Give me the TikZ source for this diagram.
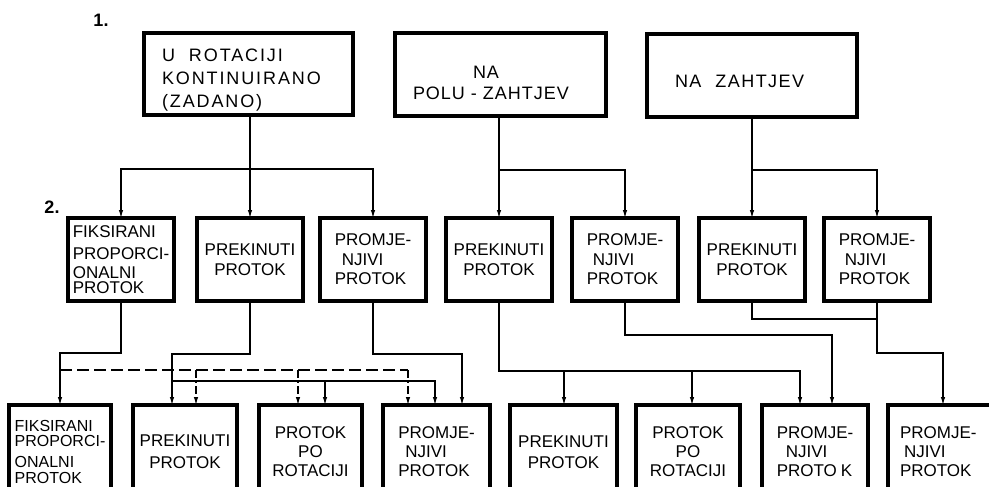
\documentclass[tikz,border=0pt]{standalone}
\usepackage{fontspec}
\setmainfont{Liberation Sans}
\newfontfamily\fA[LetterSpace=10.5]{Liberation Sans}
\newfontfamily\fB[LetterSpace=5.5]{Liberation Sans}
\newfontfamily\fC[LetterSpace=8]{Liberation Sans}
\usetikzlibrary{arrows.meta}
\begin{document}
\begin{tikzpicture}[x=1pt,y=-1pt,
  frame/.style={draw, line width=3.2pt, inner sep=0pt, outer sep=0pt},
  dropby/.style={execute at begin node={\rule{0pt}{#1}}},
  topbox/.style={frame, anchor=north west, align=left},
  midbox/.style={frame, anchor=north, minimum width=106pt, minimum height=83pt,
                 font=\fontsize{17}{19.5}\selectfont, align=center, dropby=20.4pt},
  lowbox/.style={frame, anchor=north west, minimum height=94pt,
                 font=\fontsize{17}{19}\selectfont, align=center},
  conn/.style={line width=1.1pt},
  arr/.style={conn, -{Latex[length=8pt,width=4.5pt]}},
  dsh/.style={conn, dash pattern=on 12pt off 5pt},
  dshv/.style={arr, dash pattern=on 8pt off 3pt on 2pt off 3pt},
  lbl/.style={font=\fontsize{18}{18}\selectfont\bfseries}
]
\useasboundingbox (0,0) rectangle (989,487);
\clip (0,0) rectangle (989,487);

% level labels
\node[lbl] (n1) at (101,20) {1.};
\node[lbl] (n2) at (52,207) {2.};

% top row
\node[topbox, minimum width=209pt, minimum height=82pt, inner xsep=18pt, text width=173pt,
      font=\fA\fontsize{18}{23}\selectfont, dropby=25pt] (A) at (144,33)
  {U\hspace{14pt}ROTACIJI\\KONTINUIRANO\\(ZADANO)};
\node[topbox, minimum width=211pt, minimum height=83pt, inner xsep=18pt, text width=175pt,
      font=\fB\fontsize{18}{21}\selectfont, dropby=29pt] (B) at (395,33)
  {\hspace*{60pt}NA\\POLU - ZAHTJEV};
\node[topbox, minimum width=210pt, minimum height=83pt, inner xsep=28pt, text width=154pt,
      font=\fC\fontsize{18}{21}\selectfont, dropby=24pt] (C) at (647,34)
  {NA\hspace{14pt}ZAHTJEV};

% middle row
\node[midbox, align=left, dropby=19.2pt] (M1) at (121,218)
  {FIKSIRANI\\[3pt]PROPORCI-\\[-1pt]ONALNI\\[-4pt]PROTOK};
\node[midbox] (M2) at (250,218) {PREKINUTI\\PROTOK};
\node[midbox, align=left] (M3) at (373,218) {PROMJE-\\\hspace*{7pt}NJIVI\\PROTOK};
\node[midbox] (M4) at (499,218) {PREKINUTI\\PROTOK};
\node[midbox, align=left] (M5) at (625,218) {PROMJE-\\\hspace*{6pt}NJIVI\\PROTOK};
\node[midbox] (M6) at (752,218) {PREKINUTI\\PROTOK};
\node[midbox, align=left] (M7) at (877,218) {PROMJE-\\\hspace*{6pt}NJIVI\\PROTOK};

% bottom row
\node[lowbox, minimum width=102pt, align=left, font=\fontsize{16}{19}\selectfont] (B1) at (9,405)
  {FIKSIRANI\\[-4pt]PROPORCI-\\[2pt]ONALNI\\[-3pt]PROTOK};
\node[lowbox, minimum width=104pt] (B2) at (133,405) {PREKINUTI\\[3pt]PROTOK};
\node[lowbox, minimum width=103pt] (B3) at (259,405) {PROTOK\\PO\\ROTACIJI};
\node[lowbox, minimum width=107pt, align=left] (B4) at (383,405) {PROMJE-\\\hspace*{7pt}NJIVI\\PROTOK};
\node[lowbox, minimum width=107pt] (B5) at (510,405) {PREKINUTI\\[2pt]PROTOK};
\node[lowbox, minimum width=104pt] (B6) at (636,405) {PROTOK\\PO\\ROTACIJI};
\node[lowbox, minimum width=106pt, align=left] (B7) at (762,405) {PROMJE-\\\hspace*{9pt}NJIVI\\PROTO\hspace{4pt}K};
\node[lowbox, minimum width=112pt, align=left, inner xsep=12pt, text width=88pt] (B8) at (888,405)
  {PROMJE-\\\hspace*{4pt}NJIVI\\PROTOK};

% top -> middle
\coordinate (a0) at (250,169);
\draw[conn] (A.south -| a0) -- (a0);
\draw[arr] (a0) -- (M2.north);
\draw[arr] (a0) -| (M1.north);
\draw[arr] (a0) -| (M3.north);

\coordinate (b0) at (499,170);
\draw[conn] (B.south -| b0) -- (b0);
\draw[arr] (b0) -- (M4.north);
\draw[arr] (b0) -| (M5.north);

\coordinate (c0) at (752,170);
\draw[conn] (C.south -| c0) -- (c0);
\draw[arr] (c0) -- (M6.north);
\draw[arr] (c0) -| (M7.north);

% middle -> bottom, left group
\coordinate (p1) at (60,353);
\draw[arr] (M1.south) |- (p1) -- (B1.north);

\coordinate (d0) at (60,370);
\coordinate (d2) at (196,370);
\coordinate (d3) at (298,370);
\coordinate (d4) at (408,370);
\draw[dsh] (d0) -- (d4);
\draw[dshv] (d2) -- (d2 |- B2.north);
\draw[dshv] (d3) -- (d3 |- B3.north);
\draw[dshv] (d4) -- (d4 |- B4.north);

\coordinate (p2) at (172,354);
\draw[arr] (M2.south) |- (p2) -- (p2 |- B2.north);
\coordinate (q0) at (172,381);
\coordinate (q3) at (325,381);
\coordinate (q4) at (435,381);
\draw[arr] (q0) -- (q4) -- (q4 |- B4.north);
\draw[arr] (q3) -- (q3 |- B3.north);

\coordinate (p3) at (462,354);
\draw[arr] (M3.south) |- (p3) -- (p3 |- B4.north);

% middle -> bottom, right group
\coordinate (r5) at (564,371);
\coordinate (r6) at (692,371);
\coordinate (r7) at (800,371);
\draw[arr] (M4.south) |- (r7) -- (r7 |- B7.north);
\draw[arr] (r5) -- (r5 |- B5.north);
\draw[arr] (r6) -- (r6 |- B6.north);

\coordinate (s7) at (832,335);
\draw[arr] (M5.south) |- (s7) -- (s7 |- B7.north);

\coordinate (t0) at (877,319);
\draw[conn] (M6.south) |- (t0);

\coordinate (u8) at (943,353);
\draw[arr] (M7.south) |- (u8) -- (u8 |- B8.north);
\end{tikzpicture}
\end{document}
